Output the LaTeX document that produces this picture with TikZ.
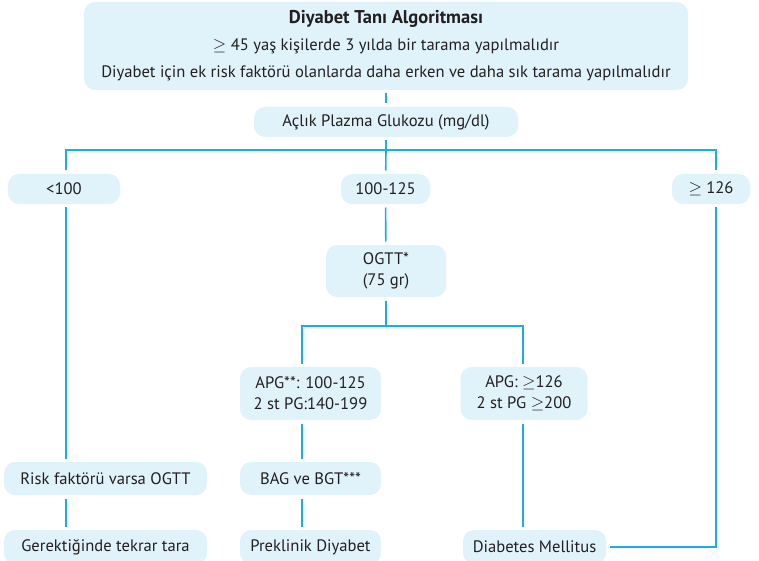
\documentclass[tikz,border=0pt]{standalone}
\usepackage{fontspec}
\setmainfont{PT Sans}
\definecolor{boxfill}{HTML}{E0F2FA}
\definecolor{linkcyan}{HTML}{1AAEE6}
\definecolor{ink}{HTML}{231F20}
\newcommand{\geqs}{\ensuremath{\geq}}
\begin{document}
\begin{tikzpicture}[x=1pt,y=-1pt,
    box/.style={fill=boxfill, rounded corners=11pt, align=center, text=ink,
      font=\fontsize{16.6}{21}\selectfont, inner sep=0pt, outer sep=3.5pt},
    link/.style={draw=linkcyan, line width=1.6pt}]
  \useasboundingbox (0,0) rectangle (759,561);
  \path
    (386,46) node[box, minimum width=604, minimum height=88] (title)
      {{\fontsize{18.5}{21}\selectfont\bfseries Diyabet Tanı Algoritması}\\[6pt]
       \geqs{} 45 yaş kişilerde 3 yılda bir tarama yapılmalıdır\\[6pt]
       Diyabet için ek risk faktörü olanlarda daha erken ve daha sık tarama yapılmalıdır}
    (386,122) node[box, minimum width=264, minimum height=30] (aclik) {Açlık Plazma Glukozu (mg/dl)}
    (64,189) node[box, minimum width=112, minimum height=30] (lt) {<100}
    (385.5,189) node[box, minimum width=89, minimum height=30] (mid) {100-125}
    (711,189) node[box, minimum width=78, minimum height=30] (ge) {\geqs{} 126}
    (386,271) node[box, minimum width=120, minimum height=52] (ogtt) {OGTT*\\(75 gr)}
    (310.5,393.5) node[box, minimum width=141, minimum height=53] (apg1) {APG**: 100-125\\2 st PG:140-199}
    (524,393.5) node[box, minimum width=127, minimum height=53] (apg2) {APG: \geqs126\\2 st PG \geqs200}
    (105.5,478.5) node[box, minimum width=203, minimum height=33] (risk) {Risk faktörü varsa OGTT}
    (310.5,478.5) node[box, minimum width=141, minimum height=33] (bag) {BAG ve BGT***}
    (105.5,547) node[box, minimum width=203, minimum height=34] (gerek) {Gerektiğinde tekrar tara}
    (310.5,547) node[box, minimum width=141, minimum height=34] (prek) {Preklinik Diyabet}
    (534.5,547) node[box, minimum width=143, minimum height=34] (dm) {Diabetes Mellitus};
  \coordinate (split1) at (386,150);
  \coordinate (split2) at (386,326);
  \coordinate (ltrack) at (66,150);
  \coordinate (rtrack) at (716,150);
  \coordinate (ltrack2) at (302,326);
  \coordinate (rtrack2) at (523,326);
  \begin{scope}[link]
    \draw (title) -- (aclik);
    \draw (aclik) -- (split1);
    \draw (split1) -- (mid);
    \draw (ltrack |- lt.north) |- (rtrack) -- (rtrack |- ge.north);
    \draw (ltrack |- lt.south) -- (ltrack |- risk.north);
    \draw (ltrack |- risk.south) -- (ltrack |- gerek.north);
    \draw (mid) -- (ogtt);
    \draw (ogtt) -- (split2);
    \draw (ltrack2 |- apg1.north) |- (rtrack2) -- (rtrack2 |- apg2.north);
    \draw (ltrack2 |- apg1.south) -- (ltrack2 |- bag.north);
    \draw (ltrack2 |- bag.south) -- (ltrack2 |- prek.north);
    \draw (rtrack2 |- apg2.south) -- (rtrack2 |- dm.north);
    \draw (rtrack |- ge.south) |- (dm.east);
  \end{scope}
\end{tikzpicture}
\end{document}
